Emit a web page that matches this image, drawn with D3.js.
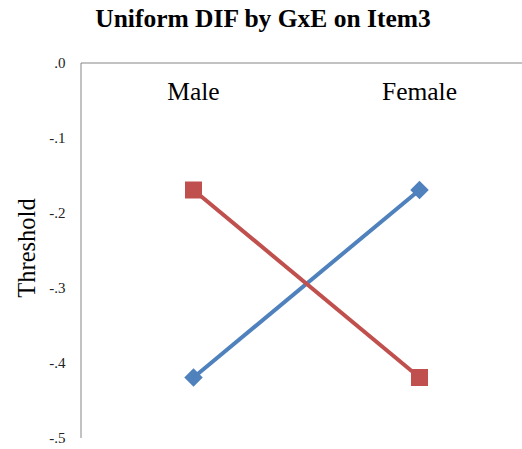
<!DOCTYPE html>
<html><head><meta charset="utf-8">
<script src="https://cdn.jsdelivr.net/npm/d3@7"></script>
<style>body{margin:0;background:#fff}svg{display:block}</style>
</head><body>
<script>
const categories = ["Male", "Female"];
const seriesBlue = [-0.42, -0.17];
const seriesRed = [-0.17, -0.42];
const yTicks = [0, -0.1, -0.2, -0.3, -0.4, -0.5];
const yTickLabels = [".0", "-.1", "-.2", "-.3", "-.4", "-.5"];
const title = "Uniform DIF by GxE on Item3";
const yTitle = "Threshold";

const W = 522, H = 449;
const serif = "Liberation Serif, Times New Roman, serif";
const svg = d3.select("body").append("svg").attr("width", W).attr("height", H);

const x = d3.scaleBand().domain(categories).range([80.5, 532.5]);
const y = d3.scaleLinear().domain([0, -0.5]).range([62.5, 437.5]);

svg.append("text").attr("x", 263).attr("y", 27).attr("text-anchor", "middle")
  .attr("font-family", serif).attr("font-weight", "bold")
  .attr("font-size", 25.5).attr("fill", "#000").text(title);

// y axis
const yAxis = d3.axisLeft(y).tickValues(yTicks).tickSize(0).tickPadding(15)
  .tickFormat((d, i) => yTickLabels[i]);
const gy = svg.append("g").attr("transform", "translate(80.5,0)").call(yAxis);
gy.select(".domain").attr("stroke", "#868686");
gy.selectAll("text").attr("font-family", serif)
  .attr("font-size", 15).attr("fill", "#222");

// x axis line at y=0
const xAxis = d3.axisTop(x).tickSize(0).tickFormat("");
const gx = svg.append("g").attr("transform", `translate(0,${y(0)})`).call(xAxis);
gx.select(".domain").attr("stroke", "#868686");

// category labels inside
svg.selectAll(".cat").data(categories).enter().append("text")
  .attr("x", d => x(d) + x.bandwidth() / 2).attr("y", 100).attr("text-anchor", "middle")
  .attr("font-family", serif).attr("font-size", 25.5)
  .attr("fill", "#000").text(d => d);

svg.append("text").attr("transform", "translate(35,248) rotate(-90)").attr("text-anchor", "middle")
  .attr("font-family", serif).attr("font-size", 24.5)
  .attr("fill", "#000").text(yTitle);

const cx = (d, i) => x(categories[i]) + x.bandwidth() / 2;
const line = d3.line().x((d, i) => cx(d, i)).y(d => y(d));

svg.append("path").datum(seriesBlue).attr("d", line).attr("fill", "none")
  .attr("stroke", "#4F81BD").attr("stroke-width", 4);
svg.append("path").datum(seriesRed).attr("d", line).attr("fill", "none")
  .attr("stroke", "#C0504D").attr("stroke-width", 4);

svg.selectAll(".dia").data(seriesBlue).enter().append("path")
  .attr("d", d3.symbol().type(d3.symbolSquare).size(170))
  .attr("transform", (d, i) => `translate(${cx(d, i)},${y(d)}) rotate(45)`)
  .attr("fill", "#4F81BD");
svg.selectAll(".sq").data(seriesRed).enter().append("rect")
  .attr("x", (d, i) => cx(d, i) - 8.5).attr("y", d => y(d) - 8.5)
  .attr("width", 17).attr("height", 17).attr("fill", "#C0504D");
</script>
</body></html>
